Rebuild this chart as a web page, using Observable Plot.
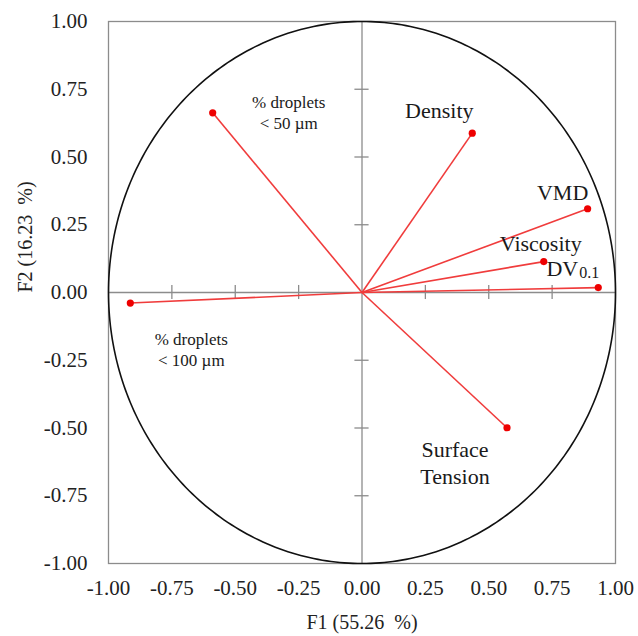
<!DOCTYPE html>
<html>
<head>
<meta charset="utf-8">
<script src="https://cdn.jsdelivr.net/npm/d3@7"></script>
<script src="https://cdn.jsdelivr.net/npm/@observablehq/plot@0.6"></script>
<style>
  html, body { margin: 0; padding: 0; background: #fff; }
</style>
</head>
<body>
<div id="chart"></div>
<script>
// ---- data ----
const variables = ["% droplets < 50 µm", "% droplets < 100 µm", "Density", "VMD", "Viscosity", "DV0.1", "Surface Tension"];
const f1 = [-0.589, -0.914, 0.435, 0.890, 0.717, 0.932, 0.572];
const f2 = [0.663, -0.039, 0.588, 0.309, 0.114, 0.018, -0.499];
const tickValues = [-1, -0.75, -0.5, -0.25, 0, 0.25, 0.5, 0.75, 1];
const innerTicks = [-0.75, -0.5, -0.25, 0.25, 0.5, 0.75];
const xTitle = "F1 (55.26\u00a0 %)";
const yTitle = "F2 (16.23\u00a0 %)";

// ---- label layout (pixel offsets from each point) ----
const labelLayout = [
  {text: "% droplets\n< 50 µm", dx: 76, dy: -1, size: 17},
  {text: "% droplets\n< 100 µm", dx: 61, dy: 46, size: 17},
  {text: "Density", dx: -33, dy: -24, size: 22},
  {text: "VMD", dx: -25, dy: -17, size: 22},
  {text: "Viscosity", dx: -3, dy: -19, size: 22},
  {text: "DV", dx: -20, dy: -20, size: 22, anchor: "end"},
  {text: "Surface\nTension", dx: -52, dy: 34, size: 22}
];

const vars = variables.map((name, i) => ({name, x: f1[i], y: f2[i]}));
const circle = d3.range(0, 361, 1).map(a => ({x: Math.cos(a * Math.PI / 180), y: Math.sin(a * Math.PI / 180)}));

const red = "#f03c3c";
const grey = "#8c8c8c";
const font = "'Liberation Serif', 'Times New Roman', serif";

const labelMarks = labelLayout.map((L, i) =>
  Plot.text([vars[i]], {
    x: "x", y: "y", text: () => L.text,
    dx: L.dx, dy: L.dy, fontSize: L.size,
    textAnchor: L.anchor || "middle", lineAnchor: "middle", lineHeight: 1.22,
    fill: "#1a1a1a", letterSpacing: L.size < 20 ? "-0.4px" : null
  })
);

const chart = Plot.plot({
  width: 638,
  height: 636,
  marginLeft: 108,
  marginRight: 23,
  marginTop: 21,
  marginBottom: 73,
  style: {fontFamily: font, fontSize: "21px", color: "#222", background: "#fff"},
  x: {domain: [-1, 1]},
  y: {domain: [-1, 1]},
  marks: [
    Plot.frame({stroke: grey, strokeWidth: 1.3}),
    Plot.ruleX([0], {stroke: grey, strokeWidth: 1.3}),
    Plot.ruleY([0], {stroke: grey, strokeWidth: 1.3}),
    Plot.ruleX(innerTicks, {y1: -0.026, y2: 0.026, stroke: grey, strokeWidth: 1.3}),
    Plot.ruleY(innerTicks, {x1: -0.028, x2: 0.028, stroke: grey, strokeWidth: 1.3}),
    Plot.line(circle, {x: "x", y: "y", stroke: "#111", strokeWidth: 1.6}),
    Plot.link(vars, {x1: 0, y1: 0, x2: "x", y2: "y", stroke: red, strokeWidth: 1.6}),
    Plot.dot(vars, {x: "x", y: "y", r: 3.6, fill: "#ee0000"}),
    ...labelMarks,
    Plot.text([vars[5]], {x: "x", y: "y", text: () => "0.1", dx: -19, dy: -15, fontSize: 16, textAnchor: "start", lineAnchor: "middle", fill: "#1a1a1a"}),
    Plot.axisX({ticks: tickValues, tickFormat: d => d.toFixed(2), tickSize: 0, tickPadding: 17, fontSize: 21, label: null}),
    Plot.axisY({ticks: tickValues, tickFormat: d => d.toFixed(2), tickSize: 0, tickPadding: 21, fontSize: 21, label: null}),
    Plot.text([xTitle], {frameAnchor: "bottom", dy: 59, fontSize: 20, lineAnchor: "middle", fill: "#222"}),
    Plot.text([yTitle], {frameAnchor: "left", dx: -83, rotate: -90, fontSize: 20, lineAnchor: "middle", fill: "#222"})
  ]
});

document.getElementById("chart").appendChild(chart);
</script>
</body>
</html>
